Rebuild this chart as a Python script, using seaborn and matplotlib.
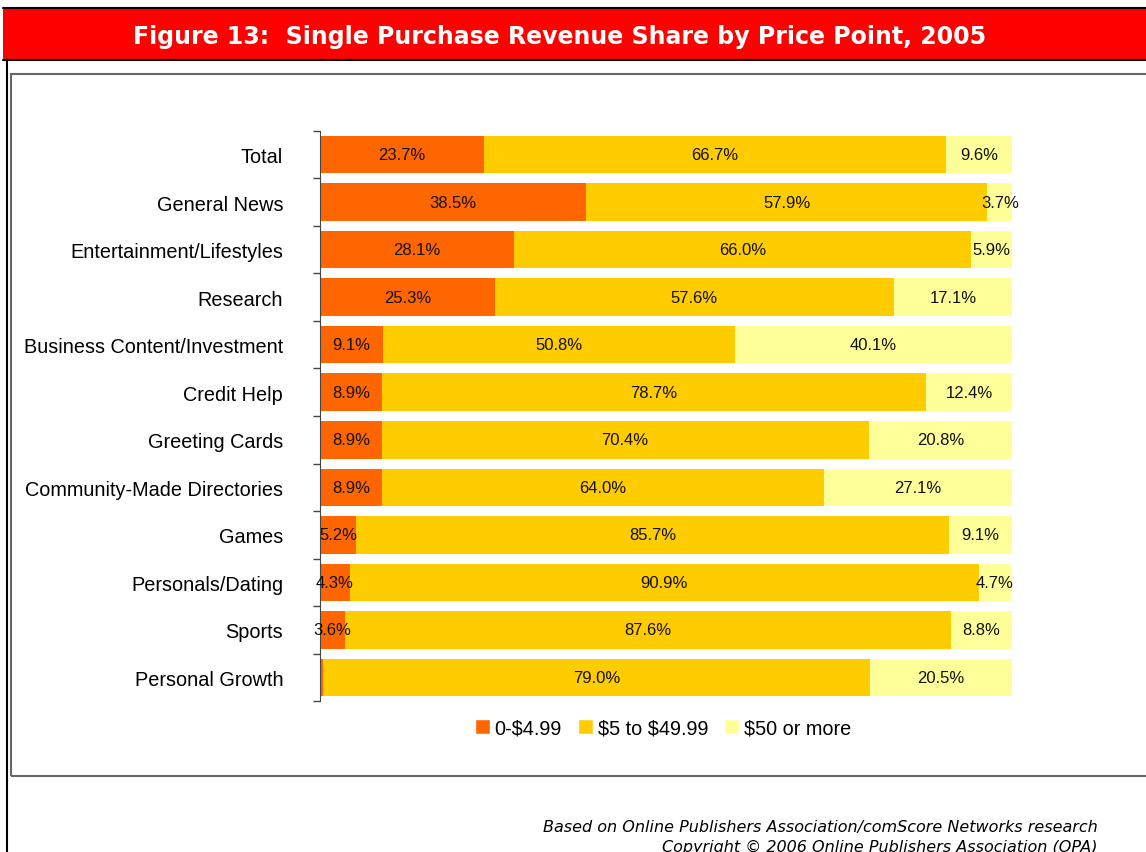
import matplotlib
matplotlib.use("Agg")
import matplotlib.pyplot as plt
import seaborn as sns
import pandas as pd
import numpy as np
from matplotlib.patches import Rectangle
from matplotlib.lines import Line2D

categories = ["Total", "General News", "Entertainment/Lifestyles", "Research",
              "Business Content/Investment", "Credit Help", "Greeting Cards",
              "Community-Made Directories", "Games", "Personals/Dating",
              "Sports", "Personal Growth"]
low = [23.7, 38.5, 28.1, 25.3, 9.1, 8.9, 8.9, 8.9, 5.2, 4.3, 3.6, 0.5]
mid = [66.7, 57.9, 66.0, 57.6, 50.8, 78.7, 70.4, 64.0, 85.7, 90.9, 87.6, 79.0]
high = [9.6, 3.7, 5.9, 17.1, 40.1, 12.4, 20.8, 27.1, 9.1, 4.7, 8.8, 20.5]
series = ["0-\\$4.99", "\\$5 to \\$49.99", "\\$50 or more"]
colors = ["#FF6600", "#FFCC00", "#FFFF99"]

df = pd.DataFrame({"cat": categories, "low": low, "mid": mid, "high": high})
df["c1"] = df["low"]
df["c2"] = df["low"] + df["mid"]
df["c3"] = df["c2"] + df["high"]

sns.set_style("white")
plt.rcParams["font.family"] = ["Liberation Sans", "DejaVu Sans"]
plt.rcParams["text.color"] = "black"

W, H = 1146, 853
fig = plt.figure(figsize=(W / 100, H / 100), dpi=100)

# page decorations: red title band, frame lines
fig.patches.append(Rectangle((3 / W, 1 - 60 / H), 1, 50 / H, transform=fig.transFigure,
                             facecolor="#FF0000", edgecolor="none", zorder=0))
for y in (9, 60.5):
    fig.lines.append(Line2D([3 / W, 1], [1 - y / H] * 2, transform=fig.transFigure,
                            color="black", lw=1.5))
fig.lines.append(Line2D([7 / W, 7 / W], [0, 1 - 60 / H], transform=fig.transFigure,
                        color="black", lw=1.5))
fig.patches.append(Rectangle((11 / W, 1 - 777 / H), 1.0, 702 / H, transform=fig.transFigure,
                             facecolor="none", edgecolor="#666666", lw=1.5))
fig.text(560 / W, 1 - 37 / H, "Figure 13:  Single Purchase Revenue Share by Price Point, 2005",
         color="white", fontsize=17, fontweight="bold", family="DejaVu Sans",
         ha="center", va="center")

ax = fig.add_axes([320 / W, 1 - 702.3 / H, (1012 - 320) / W, 570.6 / H])

# stacked bars drawn as overlapping cumulative totals
for col, c in zip(["c3", "c2", "c1"], colors[::-1]):
    sns.barplot(data=df, y="cat", x=col, color=c, orient="h", width=0.79,
                saturation=1, ax=ax, linewidth=0)

ax.set_xlim(0, 100)
ax.set_ylim(len(categories) - 0.5, -0.5)
ax.set_xlabel("")
ax.set_ylabel("")
ax.set_xticks([])
for s in ("top", "right", "bottom"):
    ax.spines[s].set_visible(False)
ax.spines["left"].set_color("#444444")
ax.set_yticks(np.arange(len(categories) + 1) - 0.5, minor=True)
ax.tick_params(axis="y", which="major", left=False, length=0, labelsize=14.3, pad=26.5,
               labelcolor="black")
ax.tick_params(axis="y", which="minor", left=True, length=5, width=1, color="#444444",
               direction="out")

for i in range(len(categories)):
    starts = [0, df.c1[i], df.c2[i]]
    vals = [low[i], mid[i], high[i]]
    for s, v in zip(starts, vals):
        if v >= 1:
            ax.text(s + v / 2, i, f"{v:.1f}%", ha="center", va="center", fontsize=12,
                    color="#111111")

handles = [Rectangle((0, 0), 1, 1, facecolor=c) for c in colors]
fig.legend(handles, series, loc="center", bbox_to_anchor=(663 / W, 1 - 729 / H), ncol=3,
           frameon=False, fontsize=14.3, handlelength=0.75, handleheight=0.75,
           handletextpad=0.25, columnspacing=0.8, labelcolor="black")

fig.text(1098 / W, 1 - 828 / H, "Based on Online Publishers Association/comScore Networks research",
         ha="right", va="center", fontsize=11.5, style="italic", family="DejaVu Sans")
fig.text(1098 / W, 1 - 847 / H, "Copyright \u00a9 2006 Online Publishers Association (OPA)",
         ha="right", va="center", fontsize=11.5, style="italic", family="DejaVu Sans")

fig.savefig("out.png", dpi=100)
